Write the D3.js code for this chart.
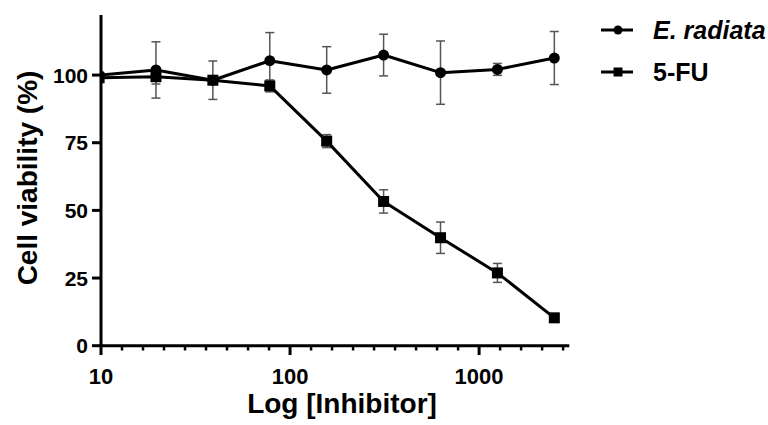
<!DOCTYPE html>
<html><head><meta charset="utf-8">
<script src="https://cdn.jsdelivr.net/npm/d3@7"></script>
<style>body{margin:0;background:#fff}svg{display:block}text{font-family:"Liberation Sans",Arial,sans-serif;font-weight:bold;fill:#000}</style>
</head><body>
<svg id="c" width="768" height="425"></svg>
<script>
const concentrations = [9.77, 19.53, 39.06, 78.13, 156.25, 312.5, 625, 1250, 2500];
const radiataMean = [100.0, 101.9, 98.1, 105.3, 101.9, 107.4, 100.9, 102.1, 106.3];
const radiataErr  = [1.0, 10.4, 7.1, 10.4, 8.6, 7.7, 11.7, 2.2, 9.8];
const fuMean = [99.0, 99.4, 98.1, 96.0, 75.6, 53.3, 39.9, 26.9, 10.3];
const fuErr  = [1.0, 2.7, 1.2, 2.2, 2.4, 4.3, 5.8, 3.5, 1.0];
const yTicks = [0, 25, 50, 75, 100];
const xTickLabels = [10, 100, 1000];
const seriesNames = ["E. radiata", "5-FU"];

const svg = d3.select("#c");
const x = d3.scaleLinear().domain([1, Math.log10(3000)]).range([101, 569.3]);
const y = d3.scaleLinear().domain([0, 122.2]).range([345.7, 15]);
const lx = c => x(Math.log10(c));

svg.append("defs").append("clipPath").attr("id","clip")
  .append("rect").attr("x",101).attr("y",0).attr("width",700).attr("height",425);

const series = [
  {name: seriesNames[0], mean: radiataMean, err: radiataErr, shape: "circle"},
  {name: seriesNames[1], mean: fuMean, err: fuErr, shape: "square"}
];

const plot = svg.append("g").attr("clip-path","url(#clip)");
// error bars
series.forEach(s => {
  const g = plot.append("g").attr("stroke","#555").attr("stroke-width",1.5).attr("fill","none");
  s.mean.forEach((m,i) => {
    const cx = lx(concentrations[i]);
    const y1 = y(m + s.err[i]), y2 = y(m - s.err[i]);
    g.append("line").attr("x1",cx).attr("x2",cx).attr("y1",y1).attr("y2",y2);
    g.append("line").attr("x1",cx-4.5).attr("x2",cx+4.5).attr("y1",y1).attr("y2",y1);
    g.append("line").attr("x1",cx-4.5).attr("x2",cx+4.5).attr("y1",y2).attr("y2",y2);
  });
});
// lines & markers
const line = d3.line().x((d,i) => lx(concentrations[i])).y(d => y(d));
series.forEach(s => {
  plot.append("path").datum(s.mean).attr("d", line)
    .attr("fill","none").attr("stroke","#000").attr("stroke-width",3).attr("stroke-linejoin","round");
  s.mean.forEach((m,i) => {
    const cx = lx(concentrations[i]), cy = y(m);
    if (s.shape === "circle") plot.append("circle").attr("cx",cx).attr("cy",cy).attr("r",5.5).attr("fill","#000");
    else plot.append("rect").attr("x",cx-5.5).attr("y",cy-5.5).attr("width",11).attr("height",11).attr("fill","#000");
  });
});

// y axis
const yAxis = svg.append("g");
yAxis.append("line").attr("x1",101).attr("x2",101).attr("y1",15).attr("y2",347).attr("stroke","#000").attr("stroke-width",3);
yTicks.forEach(t => {
  yAxis.append("line").attr("x1",92).attr("x2",101).attr("y1",y(t)).attr("y2",y(t)).attr("stroke","#000").attr("stroke-width",3);
  yAxis.append("text").attr("x",88).attr("y",y(t)+7.5).attr("text-anchor","end").attr("font-size",21).text(t);
});
// x axis
const xAxis = svg.append("g");
xAxis.append("line").attr("x1",99.5).attr("x2",569.3).attr("y1",345.7).attr("y2",345.7).attr("stroke","#000").attr("stroke-width",3);
const minor = d3.range(1, 3.48, 1/9).filter(v => Math.abs(v - Math.round(v)) > 1e-6);
minor.forEach(v => {
  xAxis.append("line").attr("x1",x(v)).attr("x2",x(v)).attr("y1",345).attr("y2",350.5).attr("stroke","#000").attr("stroke-width",2.5);
});
xTickLabels.forEach(t => {
  const px = lx(t);
  xAxis.append("line").attr("x1",px).attr("x2",px).attr("y1",345).attr("y2",355).attr("stroke","#000").attr("stroke-width",3);
  xAxis.append("text").attr("x",px).attr("y",384).attr("text-anchor","middle").attr("font-size",22).text(t);
});

// titles
svg.append("text").attr("transform","translate(37,178) rotate(-90)").attr("text-anchor","middle").attr("font-size",28).text("Cell viability (%)");
svg.append("text").attr("x",342).attr("y",413).attr("text-anchor","middle").attr("font-size",28).text("Log [Inhibitor]");

// legend
const leg = svg.append("g");
series.forEach((s,i) => {
  const cy = 30 + i*42;
  leg.append("line").attr("x1",601).attr("x2",633).attr("y1",cy).attr("y2",cy).attr("stroke","#000").attr("stroke-width",3);
  if (s.shape === "circle") leg.append("circle").attr("cx",618).attr("cy",cy).attr("r",4.5).attr("fill","#000");
  else leg.append("rect").attr("x",613.5).attr("y",cy-4.5).attr("width",9).attr("height",9).attr("fill","#000");
  leg.append("text").attr("x",653).attr("y",cy+9).attr("font-size",25)
    .attr("font-style", i===0 ? "italic" : "normal").text(s.name);
});
</script>
</body></html>
